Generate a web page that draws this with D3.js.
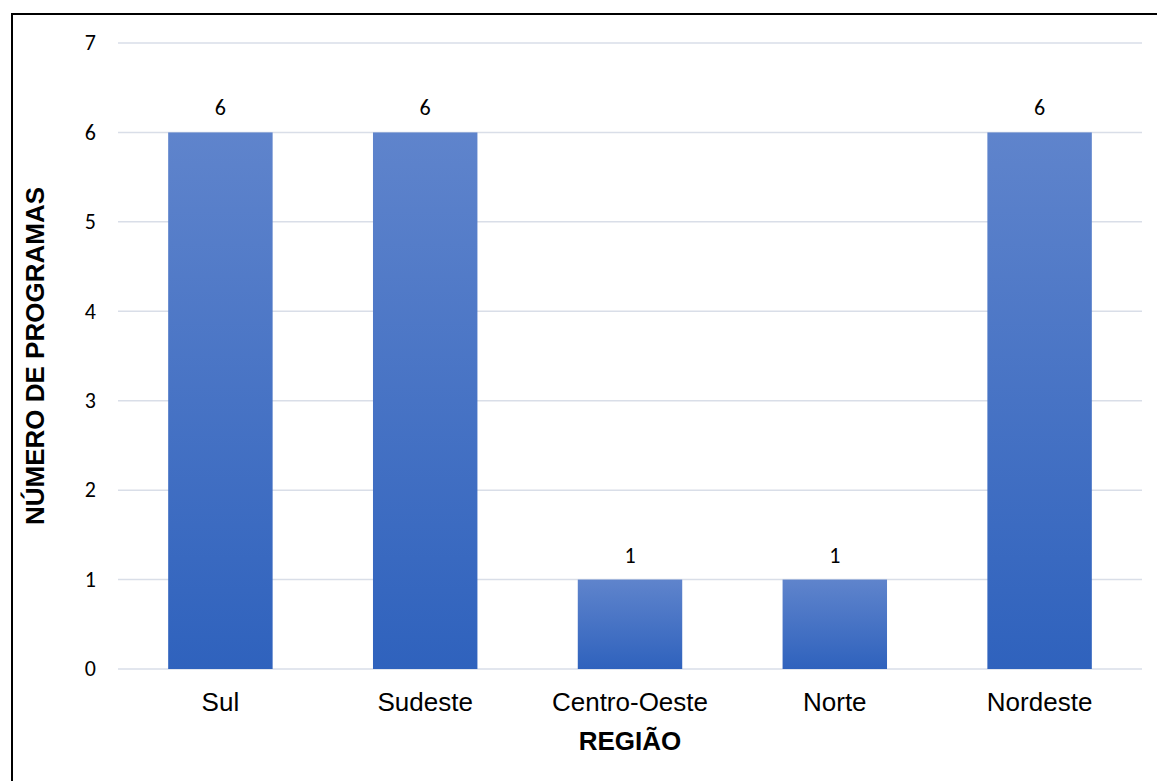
<!DOCTYPE html>
<html>
<head>
<meta charset="utf-8">
<script src="https://cdn.jsdelivr.net/npm/d3@7"></script>
<style>
  body { margin: 0; background: #fff; }
</style>
</head>
<body>
<svg id="chart" width="1157" height="781"></svg>
<script>
// data
const regions = ["Sul", "Sudeste", "Centro-Oeste", "Norte", "Nordeste"];
const programs = [6, 6, 1, 1, 6];
const yTicks = [0, 1, 2, 3, 4, 5, 6, 7];

const margin = {top: 43, right: 15, bottom: 112, left: 118},
    width = 1142 - margin.left,
    height = 669 - margin.top;

const svg = d3.select("#chart");

// outer frame (right/bottom edges fall outside the picture)
svg.append("rect")
    .attr("x", 12).attr("y", 14)
    .attr("width", 1160).attr("height", 800)
    .attr("fill", "none")
    .attr("stroke", "#000")
    .attr("stroke-width", 2);

const defs = svg.append("defs");
const grad = defs.append("linearGradient")
    .attr("id", "barGrad")
    .attr("x1", 0).attr("y1", 0).attr("x2", 0).attr("y2", 1);
grad.append("stop").attr("offset", "0%").attr("stop-color", "#5f84cc");
grad.append("stop").attr("offset", "100%").attr("stop-color", "#2f62bd");

const g = svg.append("g")
    .attr("transform", `translate(${margin.left},${margin.top})`);

const x = d3.scaleBand()
    .domain(regions)
    .range([0, width])
    .paddingInner(0.49)
    .paddingOuter(0.245);

const y = d3.scaleLinear()
    .domain([0, 7])
    .range([height, 0]);

// gridlines
g.append("g")
    .selectAll("line")
    .data(yTicks)
    .join("line")
    .attr("x1", 0).attr("x2", width)
    .attr("y1", d => y(d)).attr("y2", d => y(d))
    .attr("stroke", "#d9dee8")
    .attr("stroke-width", 1.5);

// y tick labels
g.append("g")
    .selectAll("text")
    .data(yTicks)
    .join("text")
    .attr("x", -22)
    .attr("y", d => y(d))
    .attr("dy", "0.33em")
    .attr("text-anchor", "end")
    .attr("font-family", "Carlito, 'Open Sans', sans-serif")
    .attr("font-size", "22px")
    .attr("fill", "#000")
    .text(d => d);

// bars
g.append("g")
    .selectAll("rect")
    .data(programs)
    .join("rect")
    .attr("x", (d, i) => x(regions[i]))
    .attr("y", d => y(d))
    .attr("width", x.bandwidth())
    .attr("height", d => height - y(d))
    .attr("fill", "url(#barGrad)");

// data labels
g.append("g")
    .selectAll("text")
    .data(programs)
    .join("text")
    .attr("x", (d, i) => x(regions[i]) + x.bandwidth() / 2)
    .attr("y", d => y(d) - 17)
    .attr("text-anchor", "middle")
    .attr("font-family", "Carlito, 'Open Sans', sans-serif")
    .attr("font-size", "22px")
    .attr("fill", "#000")
    .text(d => d);

// category labels
g.append("g")
    .selectAll("text")
    .data(regions)
    .join("text")
    .attr("x", d => x(d) + x.bandwidth() / 2)
    .attr("y", height + 42)
    .attr("text-anchor", "middle")
    .attr("font-family", "'Liberation Sans', Arial, sans-serif")
    .attr("font-size", "26px")
    .attr("fill", "#000")
    .text(d => d);

// axis titles
svg.append("text")
    .attr("x", margin.left + width / 2)
    .attr("y", 750)
    .attr("text-anchor", "middle")
    .attr("font-family", "'Liberation Sans', Arial, sans-serif")
    .attr("font-weight", "bold")
    .attr("font-size", "26px")
    .text("REGIÃO");

svg.append("text")
    .attr("transform", `translate(44,${margin.top + height / 2}) rotate(-90)`)
    .attr("text-anchor", "middle")
    .attr("font-family", "'Liberation Sans', Arial, sans-serif")
    .attr("font-weight", "bold")
    .attr("font-size", "26px")
    .text("NÚMERO DE PROGRAMAS");
</script>
</body>
</html>
